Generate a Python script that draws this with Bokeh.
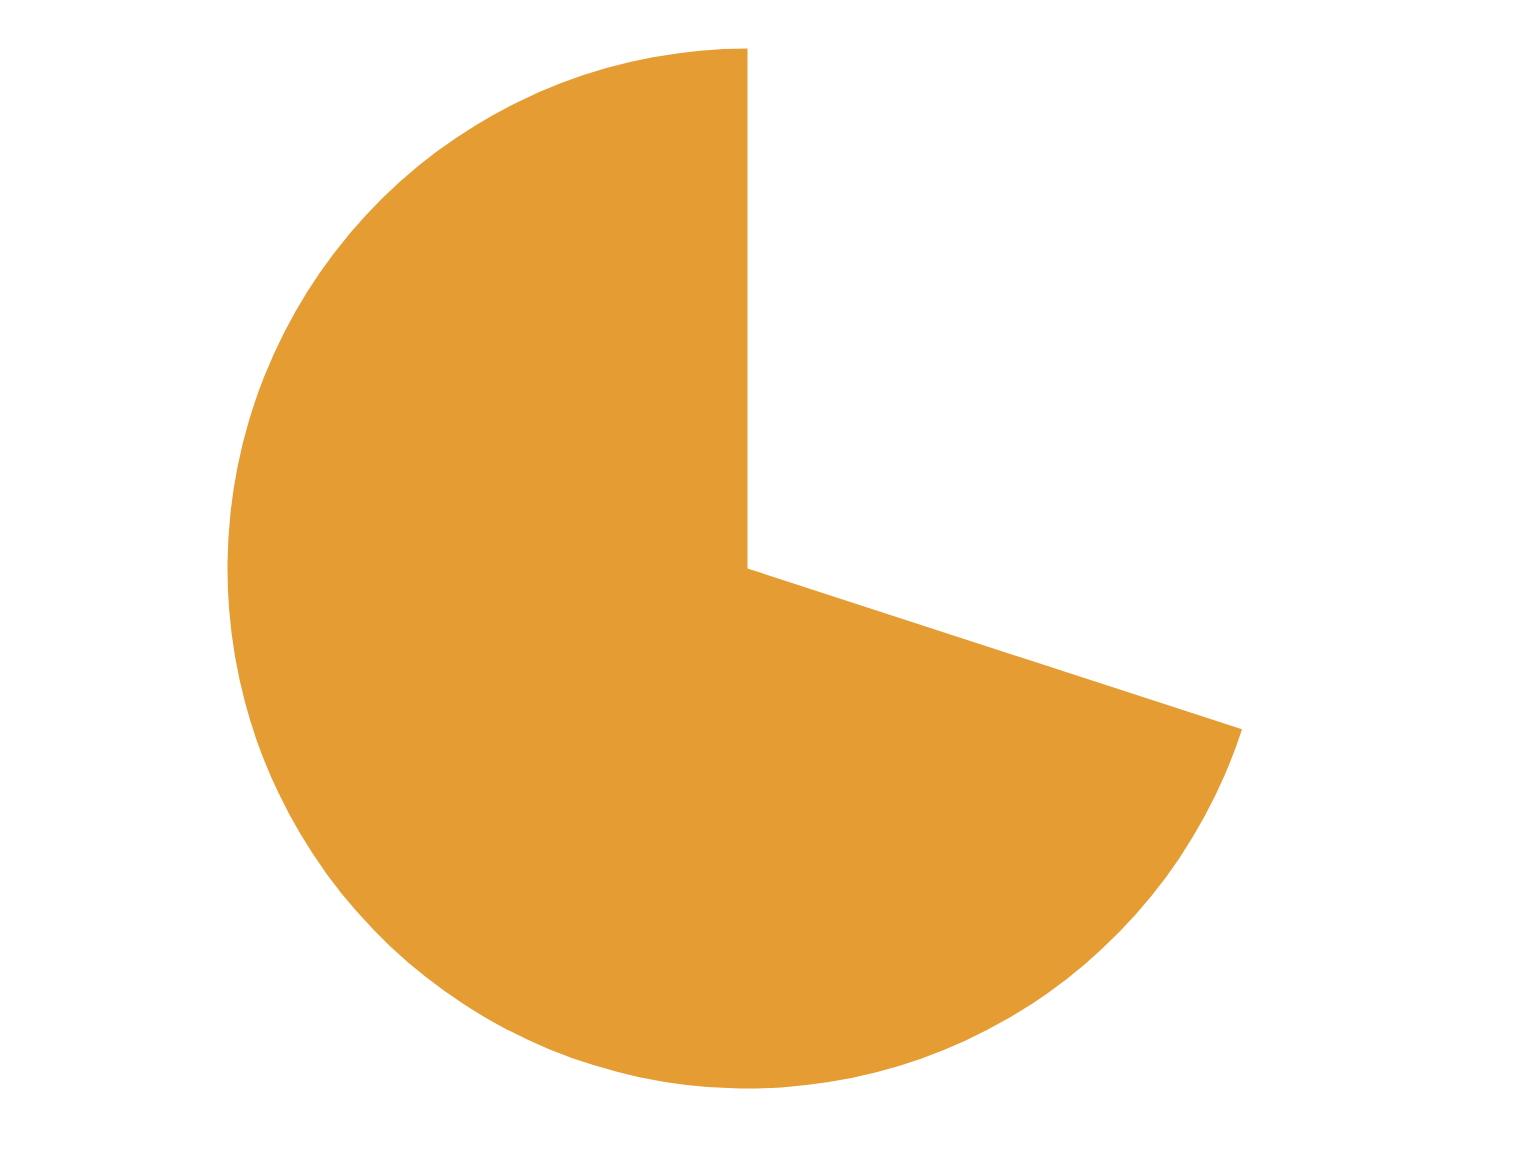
import math
from bokeh.plotting import figure
from bokeh.models import Range1d, ColumnDataSource
from bokeh.embed import file_html
from bokeh.resources import INLINE

# Data
categories = ["A", "Rest"]
values = [70, 30]
colors = ["#E59D33", None]

total = sum(values)
starts, ends = [], []
acc = 0.0
for v in values:
    s = math.pi / 2 + 2 * math.pi * acc / total
    acc += v
    e = math.pi / 2 + 2 * math.pi * acc / total
    starts.append(s)
    ends.append(e)

W, H = 1520, 1136
p = figure(width=W, height=H, output_backend="svg", toolbar_location=None,
           x_range=Range1d(0, W), y_range=Range1d(0, H), min_border=0)
p.axis.visible = False
p.grid.visible = False
p.outline_line_color = None

src = ColumnDataSource(dict(cat=categories[:1], start=starts[:1], end=ends[:1], color=colors[:1]))
p.wedge(x=747, y=H - 568, radius=520, start_angle="start", end_angle="end",
        fill_color="color", line_color=None, source=src)

open("out.html", "w").write(file_html(p, INLINE))
